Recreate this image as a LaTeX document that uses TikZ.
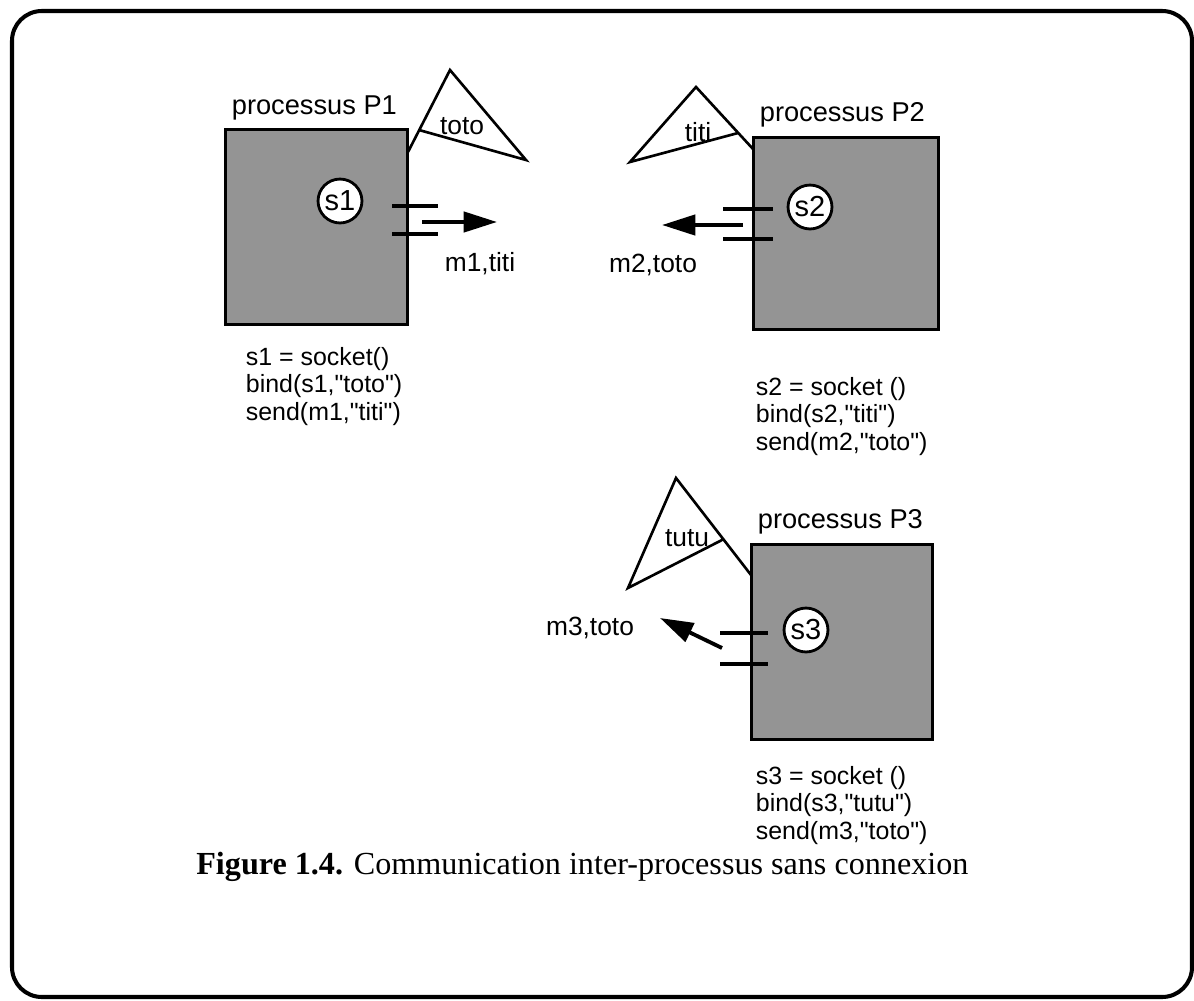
\documentclass[tikz,border=0pt]{standalone}
\usepackage{fontspec}
\setmainfont{Liberation Serif}
\newfontfamily\helv{Liberation Sans}
\usetikzlibrary{calc, positioning, arrows.meta}

\begin{document}
\begin{tikzpicture}[x=0.02cm, y=-0.02cm,
    procbox/.style={draw, line width=1.7pt, fill=black!42, inner sep=0pt},
    sockcirc/.style={circle, draw, line width=1.6pt, fill=white, minimum size=25pt, inner sep=0pt,
                     font=\helv\fontsize{16.5}{18}\selectfont},
    proclabel/.style={font=\helv\fontsize{15.5}{18}\selectfont, inner sep=0pt},
    codetext/.style={font=\helv\fontsize{14.2}{15.4}\selectfont, align=left, inner sep=0pt},
    msglabel/.style={font=\helv\fontsize{15}{18}\selectfont, inner sep=0pt},
    nametri/.style={line width=1.5pt, line join=miter},
    tickline/.style={line width=1.8pt},
    msgarrow/.style={-{Triangle[length=19pt, width=11.5pt]}, line width=2.2pt}]

    \useasboundingbox (0,0) rectangle (1194,1001);

    % =================================================================
    % 1. CADRE ARRONDI
    % =================================================================
    \draw[line width=2.3pt, rounded corners=17pt] (12,11) rectangle (1192,997);

    % =================================================================
    % 2. LES TROIS PROCESSUS
    % =================================================================
    \node[procbox, minimum width=3.66cm, minimum height=3.92cm] (P1) at (316.5,227) {};
    \node[procbox, minimum width=3.72cm, minimum height=3.86cm] (P2) at (846,233.5) {};
    \node[procbox, minimum width=3.64cm, minimum height=3.92cm] (P3) at (842,642) {};

    \node[proclabel, anchor=base west] (lblP1) at ([shift={(8,-13)}]P1.north west) {processus P1};
    \node[proclabel, anchor=base west] (lblP2) at ([shift={(8,-14)}]P2.north west) {processus P2};
    \node[proclabel, anchor=base west] (lblP3) at ([shift={(8,-14)}]P3.north west) {processus P3};

    % Sockets
    \node[sockcirc] (s1) at (340,201) {\raisebox{-2pt}{s1}};
    \node[sockcirc] (s2) at (810,207) {\raisebox{-2pt}{s2}};
    \node[sockcirc] (s3) at (806,630) {\raisebox{-3pt}{s3}};

    % =================================================================
    % 3. CODE SOUS CHAQUE PROCESSUS
    % =================================================================
    \node[codetext, anchor=north west] (codeP1) at ([shift={(22,21)}]P1.south west)
        {s1 = socket()\\bind(s1,"toto")\\send(m1,"titi")};
    \node[codetext, anchor=north west] (codeP2) at ([shift={(4,46)}]P2.south west)
        {s2 = socket ()\\bind(s2,"titi")\\send(m2,"toto")};
    \node[codetext, anchor=north west] (codeP3) at ([shift={(6,25)}]P3.south west)
        {s3 = socket ()\\bind(s3,"tutu")\\send(m3,"toto")};

    % =================================================================
    % 4. NOMS LIES (TRIANGLES)
    % =================================================================
    \draw[nametri] (408,152) -- (450,70) -- (526,160) -- (419,130);
    \node[msglabel] (nmToto) at (462,126) {toto};

    \draw[nametri] (738,133) -- (630,162) -- (696,87) -- (753,149);
    \node[msglabel] (nmTiti) at (698,132) {titi};

    \draw[nametri] (722,540) -- (628,588) -- (676,478) -- (751,575);
    \node[msglabel] (nmTutu) at (687,538) {tutu};

    % =================================================================
    % 5. MESSAGES
    % =================================================================
    % P1 -> titi
    \draw[tickline] (392,206) -- (438,206);
    \draw[tickline] (392,234) -- (438,234);
    \coordinate (m1from) at (422,222);
    \coordinate (m1to) at (497,222);
    \draw[msgarrow] (m1from) -- (m1to);
    \node[msglabel] (msg1) at (480,264) {m1,titi};

    % P2 -> toto
    \draw[tickline] (723,209) -- (773,209);
    \draw[tickline] (723,239) -- (773,239);
    \coordinate (m2from) at (743,225);
    \coordinate (m2to) at (662,225);
    \draw[msgarrow] (m2from) -- (m2to);
    \node[msglabel] (msg2) at (653,265) {m2,toto};

    % P3 -> toto
    \draw[tickline] (720,633) -- (768,633);
    \draw[tickline] (720,664) -- (768,664);
    \coordinate (m3from) at (722,648);
    \coordinate (m3to) at (660,618);
    \draw[msgarrow] (m3from) -- (m3to);
    \node[msglabel] (msg3) at (590,628) {m3,toto};

    % =================================================================
    % 6. LEGENDE
    % =================================================================
    \node[font=\fontsize{18.3}{20}\selectfont, anchor=west, inner sep=0pt] (caption) at (196,867)
        {\textbf{Figure 1.4.} Communication inter-processus sans connexion};

\end{tikzpicture}
\end{document}
